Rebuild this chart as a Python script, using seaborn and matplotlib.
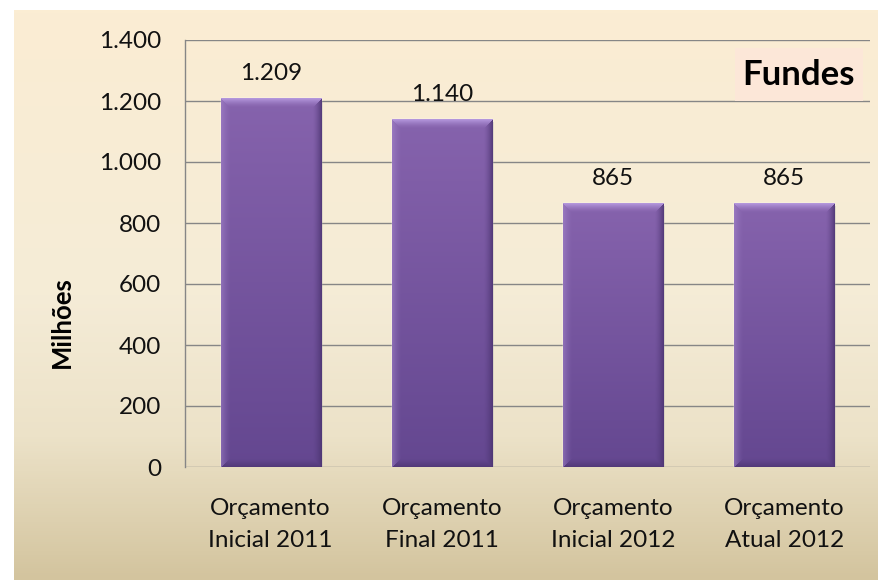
import numpy as np
import pandas as pd
import seaborn as sns
import matplotlib.pyplot as plt
from matplotlib.colors import to_rgb, LinearSegmentedColormap
from matplotlib.patches import Rectangle
from matplotlib.ticker import FuncFormatter

# data
categories = ["Orçamento\nInicial 2011", "Orçamento\nFinal 2011",
              "Orçamento\nInicial 2012", "Orçamento\nAtual 2012"]
values = [1209, 1140, 865, 865]
yticks = [0, 200, 400, 600, 800, 1000, 1200, 1400]
title = "Fundes"
ylabel = "Milhões"

df = pd.DataFrame({"cat": categories, "val": values})


def br(v):
    # brazilian thousands separator
    return f"{int(v):,}".replace(",", ".")


sns.set_style("white")
plt.rcParams["font.family"] = ["Lato", "DejaVu Sans"]

W, H = 879, 580
fig = plt.figure(figsize=(W / 100, H / 100), dpi=100)
fig.patch.set_facecolor("#d3c49e")

# background panel with vertical gradient, drawn pixel by pixel
bg_cmap = LinearSegmentedColormap.from_list(
    "bg", [(0, "#fbedd3"), (0.5, "#f5ecd7"), (0.75, "#ece2c8"), (1, "#d3c49e")])
grad = bg_cmap(np.linspace(0, 1, H - 10))[:, :3]
bg_img = np.ones((H, W, 3))
bg_img[10:, 14:, :] = grad[:, None, :]
fig.figimage(bg_img, 0, 0, origin="upper", zorder=-10)

ax = fig.add_axes([185 / W, (H - 467) / H, (870 - 185) / W, (467 - 40) / H])
ax.set_facecolor("none")

sns.barplot(data=df, x="cat", y="val", color="#7656a0", saturation=1,
            width=0.584, ax=ax, zorder=2)

ax.set_ylim(0, 1400)
ax.set_yticks(yticks)
ax.yaxis.set_major_formatter(FuncFormatter(lambda v, p: br(v)))
ax.grid(axis="y", color="#868686", lw=1.0, zorder=0)
ax.set_axisbelow(True)
for s in ["top", "right", "bottom"]:
    ax.spines[s].set_visible(False)
ax.spines["left"].set_color("#868686")
ax.spines["left"].set_linewidth(1.0)
ax.tick_params(axis="y", length=0, pad=17, labelsize=17.5, labelcolor="#111111")
ax.tick_params(axis="x", length=0, pad=22, labelsize=17.5, labelcolor="#111111")
for t in ax.get_xticklabels():
    t.set_linespacing(1.65)
ax.set_xlabel("")
ax.set_ylabel("")

# bevelled gradient fill for the bars
top_c = np.array(to_rgb("#8663ad"))
bot_c = np.array(to_rgb("#644790"))
light = np.array(to_rgb("#b497dc"))
dark = np.array(to_rgb("#4b3470"))
px_per_unit = 427 / 1400
for p in ax.patches:
    x0, w, h = p.get_x(), p.get_width(), p.get_height()
    wpx, hpx = 100, max(int(h * px_per_unit), 10)
    yy, xx = np.mgrid[0:hpx, 0:wpx].astype(float)
    t = (yy / (hpx - 1))[..., None]
    img = top_c * (1 - t) + bot_c * t
    bev = 9.0
    dl, dr, dt, db = xx, wpx - 1 - xx, yy, hpx - 1 - yy
    m = np.minimum.reduce([dl, dr, dt, db])
    f = np.clip(1 - m / bev, 0, 1)[..., None] ** 1.5
    topband = ((dt <= dl) & (dt <= dr) & (dt <= db))[..., None]
    leftband = ((dl < dt) & (dl <= dr) & (dl <= db))[..., None]
    rightband = ((dr < dt) & (dr < dl) & (dr <= db))[..., None]
    img = np.where(topband, img * (1 - f) + light * f, img)
    img = np.where(leftband, img * (1 - 0.4 * f) + light * 0.4 * f, img)
    img = np.where(rightband, img * (1 - 0.8 * f) + dark * 0.8 * f, img)
    botband = ~(topband | leftband | rightband)
    img = np.where(botband, img * (1 - 0.7 * f) + dark * 0.7 * f, img)
    ax.imshow(img, extent=(x0, x0 + w, 0, h), aspect="auto", zorder=3,
              interpolation="bilinear")
    # soft shadow
    ax.add_patch(Rectangle((x0 + 0.012, -8), w, h, facecolor="#000000",
                           alpha=0.12, edgecolor="none", zorder=1))
    p.set_zorder(2)

ax.set_xlim(-0.5, len(categories) - 0.5)
ax.set_ylim(0, 1400)

for i, v in enumerate(values):
    ax.annotate(br(v), (i, v), xytext=(0, 18), textcoords="offset points",
                ha="center", va="center", fontsize=17.5, color="#111111")

fig.text(62 / W, 1 - 322 / H, ylabel, rotation=90, ha="center", va="center",
         fontsize=18.5, fontweight="bold", color="#000000")

fig.patches.append(Rectangle((735 / W, 1 - 101 / H), 128 / W, 53 / H,
                             transform=fig.transFigure, facecolor="#fce7d8",
                             edgecolor="none", zorder=5))
fig.text(799 / W, 1 - 75 / H, title, ha="center", va="center",
         fontsize=25, fontweight="bold", color="#000000", zorder=6)

plt.savefig("out.png", dpi=100, facecolor=fig.get_facecolor())
